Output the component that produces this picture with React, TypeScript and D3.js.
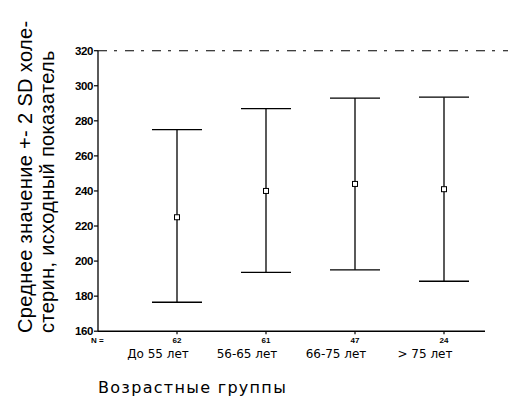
import React from "react";
import * as d3 from "d3";

const categories = ["До 55 лет", "56-65 лет", "66-75 лет", "> 75 лет"];
const counts = ["62", "61", "47", "24"];
const means = [225, 240, 244, 241];
const upper = [275, 287, 293, 293.5];
const lower = [176.5, 193.5, 195, 188.5];
const yTicks = [160, 180, 200, 220, 240, 260, 280, 300, 320];

export default function App() {
  const W = 512, H = 412;
  const y = d3.scaleLinear().domain([160, 320]).range([331.2, 50.7]);
  const x = d3.scalePoint<string>().domain(categories).range([177, 444]);
  const axisX = 98;
  const cap = 25;
  return (
    <svg width={W} height={H} style={{ position: "absolute", left: 0, top: 0, background: "#fff" }}>
      <rect x={0} y={0} width={W} height={H} fill="#fff" />
      {/* y axis */}
      <line x1={axisX} x2={axisX} y1={y(320)} y2={y(160)} stroke="#000" strokeWidth={1.3} />
      {yTicks.map((t) => (
        <g key={t}>
          <line x1={axisX - 4} x2={axisX} y1={y(t)} y2={y(t)} stroke="#000" strokeWidth={1.2} />
          <text x={axisX - 5} y={y(t)} dy="0.35em" textAnchor="end" fontFamily="Liberation Sans" fontSize={11.5} fontWeight="bold" letterSpacing={-0.4}>
            {t}
          </text>
        </g>
      ))}
      {/* top dashed frame */}
      <line x1={axisX} x2={508} y1={y(320)} y2={y(320)} stroke="#000" strokeWidth={1.1} strokeDasharray="9,7,3,8" />
      {/* bottom axis */}
      <line x1={axisX} x2={485} y1={y(160)} y2={y(160)} stroke="#000" strokeWidth={1.4} />
      {categories.map((c) => (
        <line key={c} x1={x(c)!} x2={x(c)!} y1={y(160)} y2={y(160) + 3} stroke="#000" strokeWidth={1.2} />
      ))}
      {/* error bars */}
      {categories.map((c, i) => {
        const cx = x(c)!;
        return (
          <g key={c}>
            <line x1={cx} x2={cx} y1={y(upper[i])} y2={y(lower[i])} stroke="#000" strokeWidth={1.3} />
            <line x1={cx - cap} x2={cx + cap} y1={y(upper[i])} y2={y(upper[i])} stroke="#000" strokeWidth={1.3} />
            <line x1={cx - cap} x2={cx + cap} y1={y(lower[i])} y2={y(lower[i])} stroke="#000" strokeWidth={1.3} />
            <rect x={cx - 2.5} y={y(means[i]) - 2.5} width={5} height={5} fill="#fff" stroke="#000" strokeWidth={1} />
          </g>
        );
      })}
      {/* N labels */}
      <text x={91} y={343} fontFamily="Liberation Sans" fontSize={8} fontWeight="bold">N =</text>
      {categories.map((c, i) => (
        <text key={c} x={x(c)!} y={343} textAnchor="middle" fontFamily="Liberation Sans" fontSize={8} fontWeight="bold">
          {counts[i]}
        </text>
      ))}
      {categories.map((c) => (
        <text key={c} x={x(c)! - 19} y={358} textAnchor="middle" fontFamily="DejaVu Sans" fontSize={12}>
          {c}
        </text>
      ))}
      <text x={98} y={393} fontFamily="DejaVu Sans" fontSize={16} letterSpacing={1.3}>Возрастные группы</text>
      {/* y title */}
      <text transform="translate(32,333) rotate(-90)" fontFamily="Liberation Sans" fontSize={20} letterSpacing={0.35} textAnchor="start">
        Среднее значение +- 2 SD холе-
      </text>
      <text transform="translate(54,333) rotate(-90)" fontFamily="Liberation Sans" fontSize={20} letterSpacing={0.35} textAnchor="start">
        стерин, исходный показатель
      </text>
    </svg>
  );
}
